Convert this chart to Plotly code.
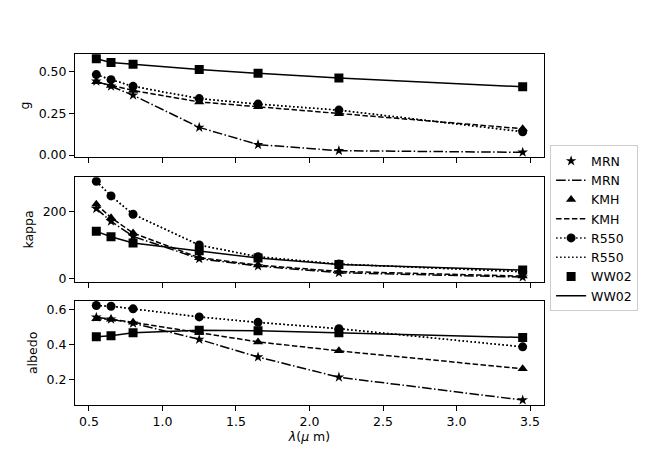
import plotly.graph_objects as go
from plotly.subplots import make_subplots

# wavelengths (micron)
wav = [0.55, 0.65, 0.8, 1.25, 1.65, 2.2, 3.45]
models = ['MRN', 'KMH', 'R550', 'WW02']

# asymmetry parameter g
g_mrn = [0.44, 0.41, 0.357, 0.165, 0.062, 0.026, 0.016]
g_kmh = [0.437, 0.415, 0.385, 0.317, 0.288, 0.246, 0.157]
g_r550 = [0.48, 0.45, 0.41, 0.337, 0.304, 0.268, 0.139]
g_ww02 = [0.575, 0.552, 0.542, 0.510, 0.488, 0.460, 0.407]

# opacity kappa
k_mrn = [210, 172, 127, 60, 38, 18, 5]
k_kmh = [223, 183, 137, 63, 41, 22, 8]
k_r550 = [292, 248, 193, 101, 66, 44, 21]
k_ww02 = [142, 126, 107, 84, 62, 43, 26]

# albedo
a_mrn = [0.554, 0.543, 0.52, 0.428, 0.328, 0.213, 0.083]
a_kmh = [0.546, 0.543, 0.525, 0.468, 0.414, 0.363, 0.261]
a_r550 = [0.621, 0.617, 0.602, 0.556, 0.525, 0.489, 0.386]
a_ww02 = [0.443, 0.449, 0.466, 0.480, 0.478, 0.466, 0.439]

panels = [
    {'MRN': g_mrn, 'KMH': g_kmh, 'R550': g_r550, 'WW02': g_ww02},
    {'MRN': k_mrn, 'KMH': k_kmh, 'R550': k_r550, 'WW02': k_ww02},
    {'MRN': a_mrn, 'KMH': a_kmh, 'R550': a_r550, 'WW02': a_ww02},
]

symbols = {'MRN': 'star', 'KMH': 'triangle-up', 'R550': 'circle', 'WW02': 'square'}
msize = {'MRN': 8, 'KMH': 9, 'R550': 9, 'WW02': 9}
dashes = {'MRN': '9.6px,2.4px,1.5px,2.4px', 'KMH': '5.5px,2.4px',
          'R550': '1.5px,2.5px', 'WW02': 'solid'}

fig = make_subplots(rows=3, cols=1, shared_xaxes=True)

for row, data in enumerate(panels, start=1):
    for m in models:
        first = row == 1
        # markers
        fig.add_trace(go.Scatter(
            x=wav, y=data[m], name=m,
            mode='lines+markers' if m == 'R550' else 'markers',
            marker=dict(symbol=symbols[m], size=msize[m], color='black'),
            line=dict(color='black', width=1.5, dash=dashes[m]),
            showlegend=first, legendrank=models.index(m) * 2 + 1,
        ), row=row, col=1)
        # lines
        fig.add_trace(go.Scatter(
            x=wav, y=data[m], name=m, mode='lines',
            line=dict(color='black', width=1.5, dash=dashes[m]),
            showlegend=first, legendrank=models.index(m) * 2 + 2,
        ), row=row, col=1)

font = dict(family='DejaVu Sans', size=12.5, color='black')
axis_style = dict(showline=True, linecolor='black', linewidth=1, mirror=True,
                  ticks='outside', ticklen=5, tickcolor='black', showgrid=False,
                  zeroline=False, tickfont=font)

fig.update_xaxes(range=[0.405, 3.595], tickvals=[0.5, 1.0, 1.5, 2.0, 2.5, 3.0, 3.5],
                 **axis_style)
fig.update_xaxes(ticktext=['0.5', '1.0', '1.5', '2.0', '2.5', '3.0', '3.5'],
                 title=dict(text='<i>λ</i>(<i>μ</i> m)', font=font, standoff=4),
                 row=3, col=1)
fig.update_yaxes(**axis_style)

# page body has an 8px margin, so the figure is a bit smaller than the window
fig.update_layout(
    yaxis=dict(domain=[0.706, 1.0], range=[-0.013, 0.603],
               tickvals=[0, 0.25, 0.5], ticktext=['0.00', '0.25', '0.50'],
               title=dict(text='g', font=font, standoff=6)),
    yaxis2=dict(domain=[0.351, 0.649], range=[-9, 304], tickvals=[0, 200],
                title=dict(text='kappa', font=font, standoff=6)),
    yaxis3=dict(domain=[0.0, 0.297], range=[0.055, 0.648],
                tickvals=[0.2, 0.4, 0.6], ticktext=['0.2', '0.4', '0.6'],
                title=dict(text='albedo', font=font, standoff=6)),
    width=650, height=446,
    margin=dict(l=67, r=114, t=46, b=42),
    plot_bgcolor='white', paper_bgcolor='white',
    font=font,
    legend=dict(x=1.013, y=0.74, xanchor='left', yanchor='top',
                bordercolor='#cccccc', borderwidth=1, font=font,
                tracegroupgap=0, itemwidth=30),
)

fig.write_html('out.html')
